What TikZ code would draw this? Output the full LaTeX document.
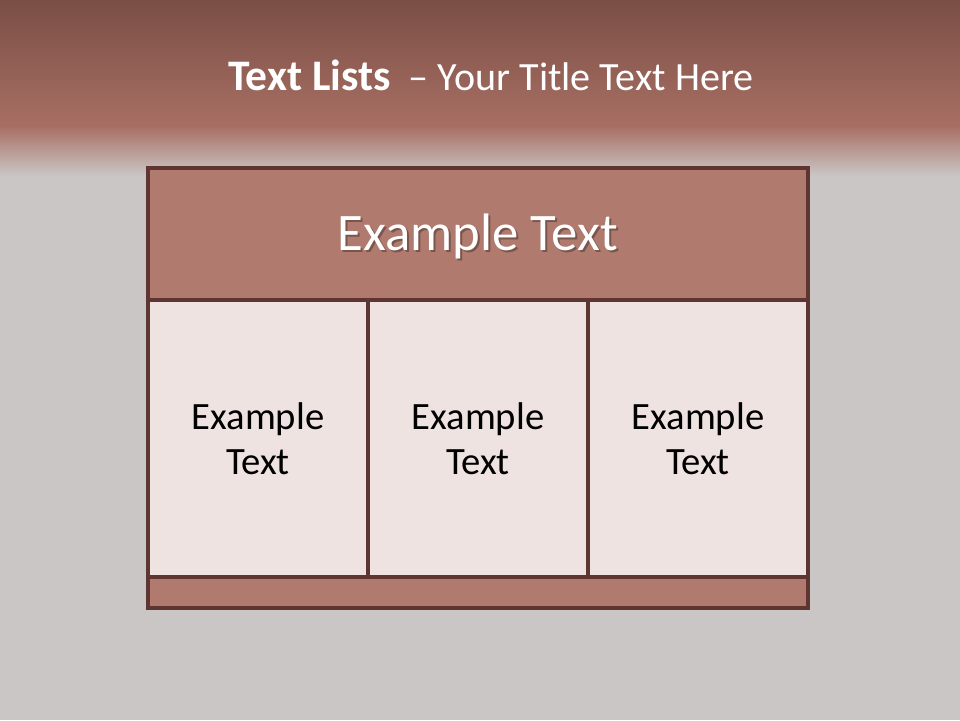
\documentclass[tikz,border=0pt]{standalone}
\usepackage{fontspec}
\setmainfont{Carlito}
\definecolor{topdark}{HTML}{7A4E46}
\definecolor{topmid}{HTML}{A86F63}
\definecolor{slidegray}{HTML}{CAC6C5}
\definecolor{headfill}{HTML}{B07A6E}
\definecolor{cellfill}{HTML}{EFE3E1}
\definecolor{edge}{HTML}{5E3530}
\begin{document}
\begin{tikzpicture}[every node/.style={outer sep=0pt, inner sep=0pt},
    box/.style={draw=edge, line width=2.2pt, rectangle},
    cell/.style={box, fill=cellfill, minimum width=5.5cm, minimum height=6.925cm, align=center, font=\fontsize{27.5}{32}\selectfont}]
        % background
        \fill[slidegray] (0,0) rectangle (24,18);
        \shade[top color=topdark, bottom color=topmid] (0,14.85) rectangle (24,18);
        \shade[top color=topmid, bottom color=slidegray] (0,13.6) rectangle (24,14.85);
        \useasboundingbox (0,0) rectangle (24,18);
        % title
        \node[text=white, font=\fontsize{28.5}{34}\selectfont] (title) at (12.27,16.12) {{\fontsize{31}{36}\selectfont\textbf{Text Lists}}~~– Your Title Text Here};
        % table
        \node[box, fill=headfill, minimum width=16.5cm, minimum height=3.3cm] (hdr) at (11.95,12.15) {};
        \node[text=black, opacity=0.3, font=\fontsize{37.5}{42}\selectfont] at (12.0,12.05) {Example Text};
        \node[text=white, font=\fontsize{37.5}{42}\selectfont] (hdrtext) at (11.95,12.1) {Example Text};
        \node[cell] (c1) at (6.45,7.0375) {Example\\Text};
        \node[cell] (c2) at (11.95,7.0375) {Example\\Text};
        \node[cell] (c3) at (17.45,7.0375) {Example\\Text};
        \node[box, fill=headfill, minimum width=16.5cm, minimum height=0.775cm] (bar) at (11.95,3.1875) {};
    \end{tikzpicture}
\end{document}
